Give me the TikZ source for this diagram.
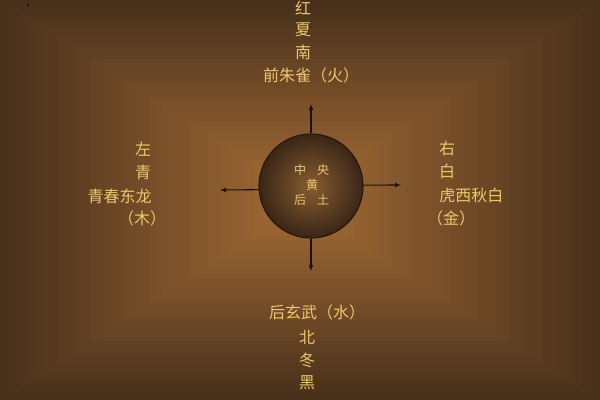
\documentclass[tikz,border=0pt]{standalone}
\usepackage{fontspec}
\newfontfamily\cjk{Noto Sans CJK SC}
\usetikzlibrary{arrows.meta}
\definecolor{bgedge}{RGB}{72,48,27}
\definecolor{bgmid}{RGB}{152,100,50}
\definecolor{gold}{RGB}{236,200,105}
\definecolor{arrowc}{RGB}{28,17,9}
\definecolor{ballin}{RGB}{135,93,50}
\definecolor{ballout}{RGB}{58,38,22}
\definecolor{ballrim}{RGB}{40,24,12}
\tikzset{
  lbl/.style={text=gold, font=\cjk\fontsize{12pt}{14pt}\selectfont, inner sep=0pt},
  small/.style={text=gold, font=\cjk\fontsize{9pt}{11pt}\selectfont, inner sep=0pt},
  arr/.style={draw=arrowc, line width=0.8pt, -{Latex[length=4.5pt,width=3.6pt]}},
  ball/.style={circle, draw=ballrim, line width=0.9pt, inner color=ballin, outer color=ballout, minimum size=78pt, inner sep=0pt}
}
\begin{document}
\begin{tikzpicture}[x=0.75pt,y=-0.75pt]
\useasboundingbox (0,0) rectangle (600,400);
% background rectangular gradient
\foreach \i in {0,...,40} {
  \pgfmathsetmacro\p{100*\i/40}
  \fill[bgmid!\p!bgedge] ({\i*6.5},{\i*4.2}) rectangle ({600-\i*6.5},{400-\i*4.2});
}
\fill[black] (28,5) circle (1);
% central ball
\node[ball] (c) at (311,186) {};
\node[small] (z1) at (300,170) {中};
\node[small] (z2) at (323,170) {央};
\node[small] (z3) at (312,185) {黄};
\node[small] (z4) at (300,200) {后};
\node[small] (z5) at (323,200) {土};
% arrow ends
\coordinate (tN) at (311,104);
\coordinate (tS) at (311,271);
\coordinate (tW) at (220,190);
\coordinate (tE) at (401,185);
\draw[arr] (c.north) -- (tN);
\draw[arr] (c.south) -- (tS);
\draw[arr] (c.184) -- (tW);
\draw[arr] (c.1) -- (tE);
% top
\node[lbl] (n1) at (303,8) {红};
\node[lbl] (n2) at (303,30) {夏};
\node[lbl] (n3) at (303,52) {南};
\node[lbl] (n4) at (311,75) {前朱雀（火）};
% left
\node[lbl] (w1) at (143,149) {左};
\node[lbl] (w2) at (143,172) {青};
\node[lbl, anchor=east] (w3) at (152,196) {青春东龙};
\node[lbl] (w4) at (142,218) {（木）};
% right
\node[lbl] (e1) at (447,148) {右};
\node[lbl] (e2) at (447,171) {白};
\node[lbl, anchor=west] (e3) at (439,195) {虎西秋白};
\node[lbl] (e4) at (451,218) {（金）};
% bottom
\node[lbl] (s1) at (317,312) {后玄武（水）};
\node[lbl] (s2) at (307,337) {北};
\node[lbl] (s3) at (307,360) {冬};
\node[lbl] (s4) at (307,383) {黑};
\end{tikzpicture}
\end{document}
